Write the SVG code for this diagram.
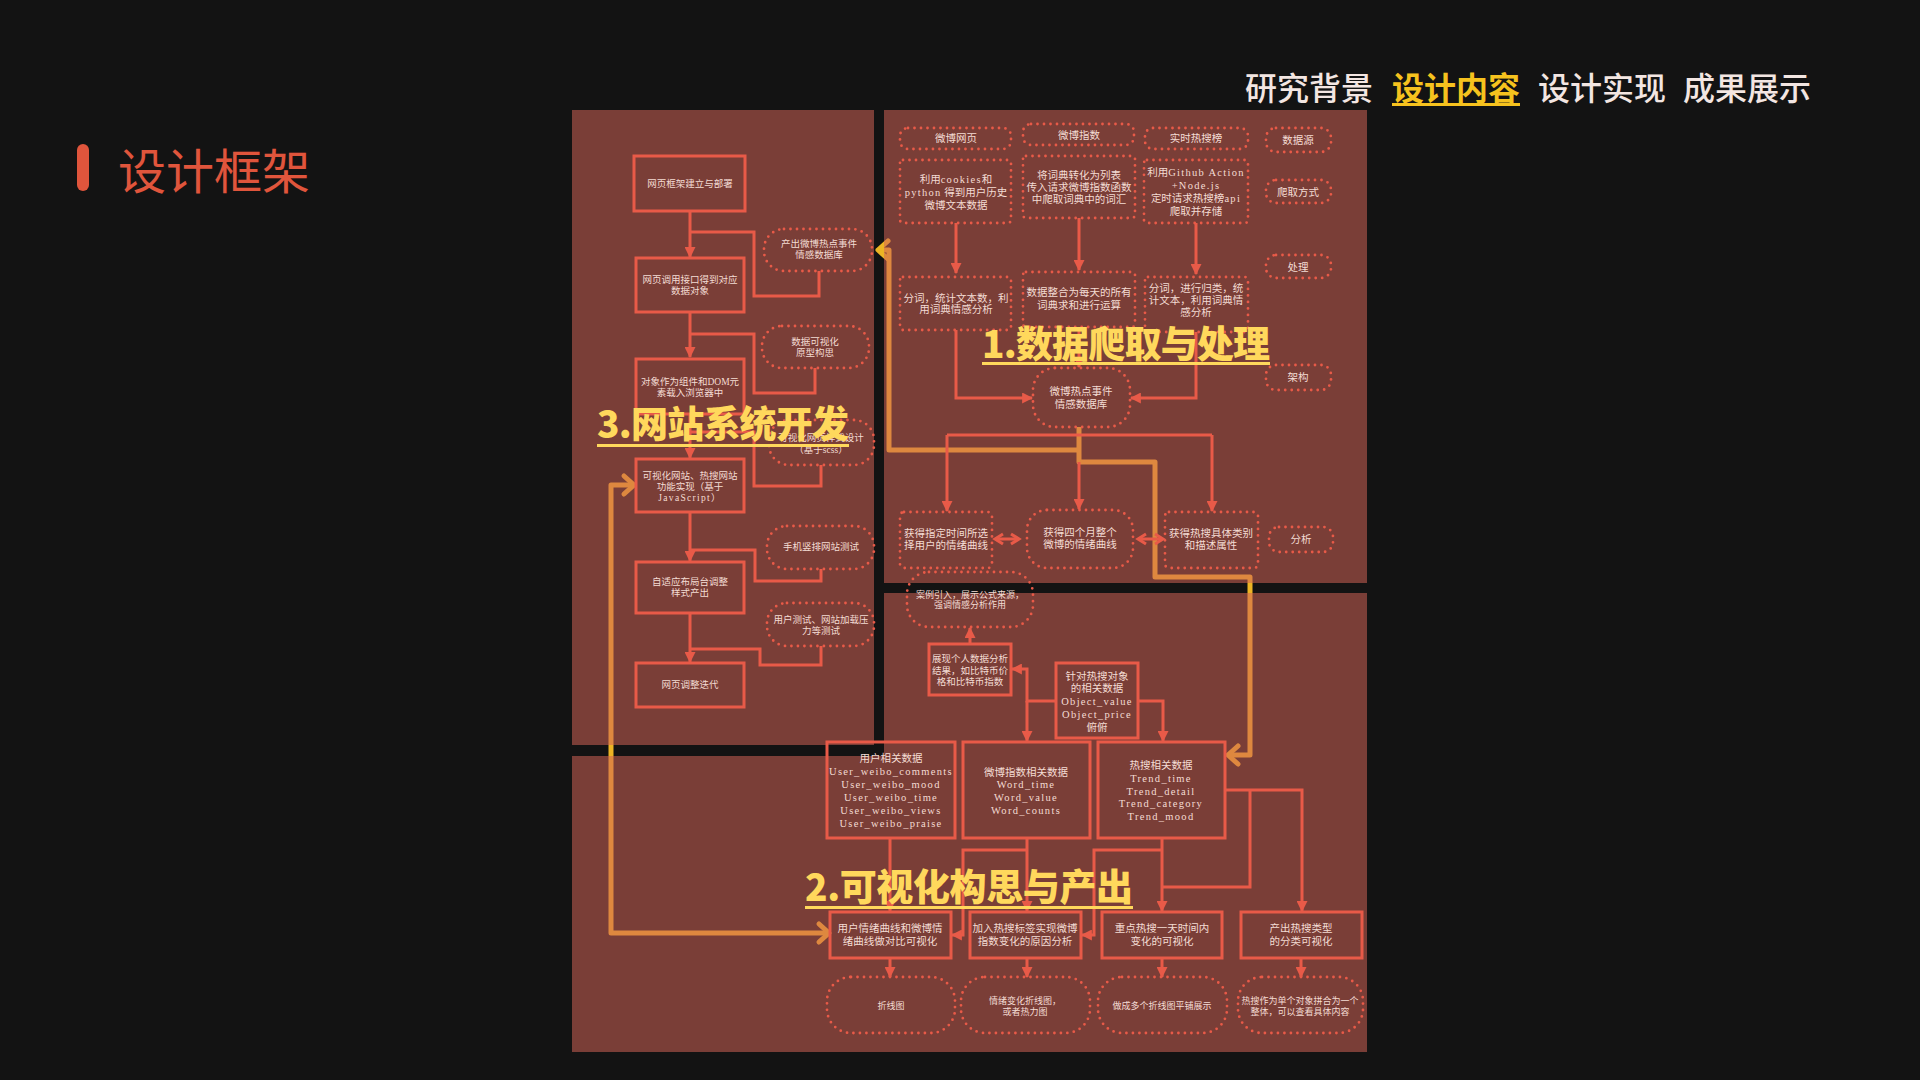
<svg xmlns="http://www.w3.org/2000/svg" width="1920" height="1080" viewBox="0 0 1920 1080">
<defs>
<style>
.bx{fill:none;stroke:#e85a48;stroke-width:3}
.dt{fill:none;stroke:#e85a48;stroke-width:2.8;stroke-dasharray:0 6.5;stroke-linecap:round}
.ln{fill:none;stroke:#e85a48;stroke-width:3}
.ar{marker-end:url(#arr)}
.og{fill:none;stroke:#ecb424;stroke-width:5;stroke-linejoin:round}
.t{font-family:"Liberation Serif","Noto Sans CJK SC",serif;font-size:10.5px;fill:#f4dcd4;text-anchor:middle}
.s{font-size:9.5px}
.xs{font-size:9px}
.lat{letter-spacing:1.3px}
.lab{font-family:"Noto Sans CJK SC","Noto Sans",sans-serif;font-weight:900;font-size:37px;fill:#ffd85c}
.nav{font-family:"Noto Sans CJK SC","Noto Sans",sans-serif;font-size:32px;font-weight:500;fill:#f3e6e2}
</style>
<marker id="arr" viewBox="0 0 10 10" refX="9" refY="5" markerWidth="11" markerHeight="11" markerUnits="userSpaceOnUse" orient="auto"><path d="M0,0 L10,5 L0,10 z" fill="#e85a48"/></marker>
<marker id="chev" viewBox="0 0 10 12" refX="9" refY="6" markerWidth="10" markerHeight="12" markerUnits="userSpaceOnUse" orient="auto-start-reverse" overflow="visible"><path d="M1,1 L9,6 L1,11" fill="none" stroke="#e85a48" stroke-width="3"/></marker>
<marker id="och" viewBox="0 0 14 22" refX="12" refY="11" markerWidth="14" markerHeight="22" markerUnits="userSpaceOnUse" orient="auto-start-reverse" overflow="visible"><path d="M2,2 L12,11 L2,20" fill="none" stroke="#ecb424" stroke-width="5" stroke-linecap="round" stroke-linejoin="round"/></marker>
</defs>
<rect x="0" y="0" width="1920" height="1080" fill="#131313"/>

<g id="header">
<text x="1245" y="100" class="nav">研究背景</text>
<text x="1392" y="100" class="nav" style="fill:#f6c21e;font-weight:700">设计内容</text>
<rect x="1392" y="103" width="128" height="3" fill="#f6c21e"/>
<text x="1538" y="100" class="nav">设计实现</text>
<text x="1683" y="100" class="nav">成果展示</text>
</g>
<g id="title">
<rect x="77" y="144" width="12" height="47" rx="6" fill="#e0553c"/>
<text x="118" y="189" style="font-family:'Noto Sans CJK SC','Noto Sans',sans-serif;font-size:48px;fill:#e0553c">设计框架</text>
</g>

<g id="highlight-connectors">
<path class="og" d="M1079 450 H889 V250 H878" marker-end="url(#och)"/>
<path class="og" d="M1079 427 V462 H1155 V577 H1250 V755 H1228" marker-end="url(#och)"/>
<path class="og" d="M634 485 H611 V933 H829" marker-start="url(#och)" marker-end="url(#och)"/>
</g>

<g id="panels" fill="rgb(210,99,86)" fill-opacity="0.54">
<rect x="572" y="110" width="302" height="635"/>
<rect x="884" y="110" width="483" height="473"/>
<path d="M884 593 H1367 V1052 H572 V756 H884 Z"/>
</g>

<g id="connectors">
<path class="ln ar" d="M690 211 V257"/>
<path class="ln ar" d="M690 312 V357"/>
<path class="ln ar" d="M690 414 V458"/>
<path class="ln ar" d="M690 512 V561"/>
<path class="ln ar" d="M690 613 V662"/>
<path class="ln" d="M819 271 V296 H754 V232 H690"/>
<path class="ln" d="M815 368 V393 H754 V334 H690"/>
<path class="ln" d="M821 465 V486 H754 V432 H690"/>
<path class="ln" d="M821 569 V581 H755 V550 H690"/>
<path class="ln" d="M821 646 V665 H760 V649 H690"/>
<path class="ln ar" d="M956 223 V273"/>
<path class="ln ar" d="M1079 218 V270"/>
<path class="ln ar" d="M1196 223 V274"/>
<path class="ln ar" d="M956 330 V398 H1032"/>
<path class="ln ar" d="M1196 332 V398 H1131"/>
<path class="ln ar" d="M1079 327 V367"/>
<path class="ln" d="M947 435 H1212"/>
<path class="ln ar" d="M947 435 V511"/>
<path class="ln ar" d="M1079 462 V509"/>
<path class="ln ar" d="M1212 435 V511"/>
<path class="ln" d="M995 539 H1019" marker-start="url(#chev)" marker-end="url(#chev)"/>
<path class="ln" d="M1138 539 H1163" marker-start="url(#chev)" marker-end="url(#chev)"/>
<path class="ln ar" d="M970 644 V628"/>
<path class="ln ar" d="M1056 701 H1027 V669 H1012"/>
<path class="ln ar" d="M1027 701 V741"/>
<path class="ln ar" d="M1138 701 H1163 V741"/>
<path class="ln ar" d="M890 838 V911"/>
<path class="ln ar" d="M1027 838 V911"/>
<path class="ln ar" d="M1027 850 H963 V935 H952"/>
<path class="ln ar" d="M1162 838 V911"/>
<path class="ln ar" d="M1162 850 H1094 V935 H1082"/>
<path class="ln ar" d="M1225 790 H1302 V911"/>
<path class="ln" d="M1250 790 V887 H1162"/>
<path class="ln ar" d="M890 958 V977"/>
<path class="ln ar" d="M1027 958 V977"/>
<path class="ln ar" d="M1162 958 V977"/>
<path class="ln ar" d="M1301 958 V977"/>
</g>

<g id="n-frame"><rect class="bx" x="634" y="156" width="111" height="55"/><text class="t s" x="690" y="187">网页框架建立与部署</text></g>
<g id="n-api"><rect class="bx" x="636" y="258" width="108" height="54"/><text class="t s" x="690" y="283">网页调用接口得到对应</text><text class="t s" x="690" y="294">数据对象</text></g>
<g id="n-dom"><rect class="bx" x="636" y="359" width="108" height="55"/><text class="t s" x="690" y="385">对象作为组件和DOM元</text><text class="t s" x="690" y="396">素载入浏览器中</text></g>
<g id="n-js"><rect class="bx" x="636" y="459" width="108" height="53"/><text class="t s" x="690" y="479">可视化网站、热搜网站</text><text class="t s" x="690" y="490">功能实现（基于</text><text class="t s lat" x="690" y="501">JavaScript）</text></g>
<g id="n-adapt"><rect class="bx" x="636" y="562" width="108" height="51"/><text class="t s" x="690" y="585">自适应布局台调整</text><text class="t s" x="690" y="596">样式产出</text></g>
<g id="n-iter"><rect class="bx" x="636" y="663" width="108" height="44"/><text class="t s" x="690" y="688">网页调整迭代</text></g>
<g id="e-db-out"><rect class="dt" x="764" y="229" width="108" height="42" rx="20"/><text class="t s" x="819" y="247">产出微博热点事件</text><text class="t s" x="819" y="258">情感数据库</text></g>
<g id="e-proto"><rect class="dt" x="762" y="326" width="107" height="42" rx="20"/><text class="t s" x="815" y="345">数据可视化</text><text class="t s" x="815" y="356">原型构思</text></g>
<g id="e-scss"><rect class="dt" x="769" y="420" width="105" height="45" rx="20"/><text class="t s" x="821" y="441">可视化网页样式设计</text><text class="t s" x="821" y="453">（基于scss）</text></g>
<g id="e-mobile"><rect class="dt" x="767" y="526" width="107" height="43" rx="20"/><text class="t s" x="821" y="550">手机竖排网站测试</text></g>
<g id="e-test"><rect class="dt" x="767" y="603" width="107" height="43" rx="20"/><text class="t s" x="821" y="623">用户测试、网站加载压</text><text class="t s" x="821" y="634">力等测试</text></g>

<g id="n-src1"><rect class="dt" x="900" y="128" width="111" height="21" rx="8"/><text class="t" x="956" y="142">微博网页</text></g>
<g id="n-src2"><rect class="dt" x="1023" y="124" width="111" height="21" rx="8"/><text class="t" x="1079" y="139">微博指数</text></g>
<g id="n-src3"><rect class="dt" x="1145" y="128" width="103" height="21" rx="8"/><text class="t" x="1196" y="142">实时热搜榜</text></g>
<g id="n-lab-src"><rect class="dt" x="1266" y="128" width="65" height="24" rx="10"/><text class="t" x="1298" y="144">数据源</text></g>
<g id="n-crawl1"><rect class="dt" x="900" y="160" width="111" height="63" rx="3"/><text class="t" x="956" y="183">利用<tspan class="lat">cookies</tspan>和</text><text class="t" x="956" y="196"><tspan class="lat">python</tspan> 得到用户历史</text><text class="t" x="956" y="209">微博文本数据</text></g>
<g id="n-crawl2"><rect class="dt" x="1023" y="156" width="112" height="62" rx="3"/><text class="t" x="1079" y="179">将词典转化为列表</text><text class="t" x="1079" y="191">传入请求微博指数函数</text><text class="t" x="1079" y="203">中爬取词典中的词汇</text></g>
<g id="n-crawl3"><rect class="dt" x="1144" y="160" width="104" height="63" rx="3"/><text class="t" x="1196" y="176">利用<tspan class="lat">Github Action</tspan></text><text class="t lat" x="1196" y="189">+Node.js</text><text class="t" x="1196" y="202">定时请求热搜榜<tspan class="lat">api</tspan></text><text class="t" x="1196" y="215">爬取并存储</text></g>
<g id="n-lab-crawl"><rect class="dt" x="1266" y="180" width="65" height="23" rx="10"/><text class="t" x="1298" y="196">爬取方式</text></g>
<g id="n-proc1"><rect class="dt" x="900" y="277" width="111" height="53" rx="3"/><text class="t" x="956" y="302">分词，统计文本数，利</text><text class="t" x="956" y="313">用词典情感分析</text></g>
<g id="n-proc2"><rect class="dt" x="1023" y="272" width="112" height="55" rx="3"/><text class="t" x="1079" y="296">数据整合为每天的所有</text><text class="t" x="1079" y="309">词典求和进行运算</text></g>
<g id="n-proc3"><rect class="dt" x="1145" y="277" width="103" height="55" rx="3"/><text class="t" x="1196" y="292">分词，进行归类，统</text><text class="t" x="1196" y="304">计文本，利用词典情</text><text class="t" x="1196" y="316">感分析</text></g>
<g id="n-lab-proc"><rect class="dt" x="1266" y="255" width="65" height="23" rx="10"/><text class="t" x="1298" y="271">处理</text></g>
<g id="n-db"><rect class="dt" x="1033" y="368" width="97" height="59" rx="22"/><text class="t" x="1081" y="395">微博热点事件</text><text class="t" x="1081" y="408">情感数据库</text></g>
<g id="n-lab-arch"><rect class="dt" x="1266" y="365" width="65" height="25" rx="10"/><text class="t" x="1298" y="381">架构</text></g>
<g id="n-ana1"><rect class="dt" x="900" y="512" width="92" height="56" rx="4"/><text class="t" x="946" y="537">获得指定时间所选</text><text class="t" x="946" y="549">择用户的情绪曲线</text></g>
<g id="n-ana2"><rect class="dt" x="1027" y="510" width="106" height="58" rx="20"/><text class="t" x="1080" y="536">获得四个月整个</text><text class="t" x="1080" y="548">微博的情绪曲线</text></g>
<g id="n-ana3"><rect class="dt" x="1165" y="512" width="93" height="56" rx="4"/><text class="t" x="1211" y="537">获得热搜具体类别</text><text class="t" x="1211" y="549">和描述属性</text></g>
<g id="n-lab-ana"><rect class="dt" x="1269" y="527" width="64" height="25" rx="10"/><text class="t" x="1301" y="543">分析</text></g>

<g id="n-case"><rect class="dt" x="907" y="572" width="126" height="55" rx="22"/><text class="t xs" x="970" y="598">案例引入，展示公式来源，</text><text class="t xs" x="970" y="608">强调情感分析作用</text></g>
<g id="n-personal"><rect class="bx" x="929" y="644" width="82" height="51"/><text class="t s" x="970" y="662">展现个人数据分析</text><text class="t s" x="970" y="674">结果，如比特币价</text><text class="t s" x="970" y="685">格和比特币指数</text></g>
<g id="n-object"><rect class="bx" x="1056" y="663" width="82" height="75"/><text class="t" x="1097" y="680">针对热搜对象</text><text class="t" x="1097" y="692">的相关数据</text><text class="t lat" x="1097" y="705">Object_value</text><text class="t lat" x="1097" y="718">Object_price</text><text class="t" x="1097" y="731">俯俯</text></g>
<g id="n-user"><rect class="bx" x="827" y="742" width="128" height="96"/><text class="t" x="891" y="762">用户相关数据</text><text class="t lat" x="891" y="775">User_weibo_comments</text><text class="t lat" x="891" y="788">User_weibo_mood</text><text class="t lat" x="891" y="801">User_weibo_time</text><text class="t lat" x="891" y="814">User_weibo_views</text><text class="t lat" x="891" y="827">User_weibo_praise</text></g>
<g id="n-word"><rect class="bx" x="963" y="742" width="127" height="96"/><text class="t" x="1026" y="776">微博指数相关数据</text><text class="t lat" x="1026" y="788">Word_time</text><text class="t lat" x="1026" y="801">Word_value</text><text class="t lat" x="1026" y="814">Word_counts</text></g>
<g id="n-trend"><rect class="bx" x="1098" y="742" width="127" height="96"/><text class="t" x="1161" y="769">热搜相关数据</text><text class="t lat" x="1161" y="782">Trend_time</text><text class="t lat" x="1161" y="795">Trend_detail</text><text class="t lat" x="1161" y="807">Trend_category</text><text class="t lat" x="1161" y="820">Trend_mood</text></g>
<g id="n-vis1"><rect class="bx" x="830" y="912" width="121" height="46"/><text class="t" x="890" y="932">用户情绪曲线和微博情</text><text class="t" x="890" y="945">绪曲线做对比可视化</text></g>
<g id="n-vis2"><rect class="bx" x="970" y="912" width="111" height="46"/><text class="t" x="1025" y="932">加入热搜标签实现微博</text><text class="t" x="1025" y="945">指数变化的原因分析</text></g>
<g id="n-vis3"><rect class="bx" x="1102" y="912" width="120" height="46"/><text class="t" x="1162" y="932">重点热搜一天时间内</text><text class="t" x="1162" y="945">变化的可视化</text></g>
<g id="n-vis4"><rect class="bx" x="1241" y="912" width="121" height="46"/><text class="t" x="1301" y="932">产出热搜类型</text><text class="t" x="1301" y="945">的分类可视化</text></g>
<g id="e-out1"><rect class="dt" x="827" y="977" width="128" height="56" rx="24"/><text class="t xs" x="891" y="1009">折线图</text></g>
<g id="e-out2"><rect class="dt" x="961" y="977" width="129" height="56" rx="24"/><text class="t xs" x="1025" y="1004">情绪变化折线图，</text><text class="t xs" x="1025" y="1015">或者热力图</text></g>
<g id="e-out3"><rect class="dt" x="1098" y="977" width="129" height="56" rx="24"/><text class="t xs" x="1162" y="1009">做成多个折线图平铺展示</text></g>
<g id="e-out4"><rect class="dt" x="1238" y="977" width="125" height="56" rx="24"/><text class="t xs" x="1300" y="1004">热搜作为单个对象拼合为一个</text><text class="t xs" x="1300" y="1015">整体，可以查看具体内容</text></g>

<g id="section-labels">
<text class="lab" x="982" y="358" textLength="288" lengthAdjust="spacing">1.数据爬取与处理</text>
<rect x="982" y="362" width="288" height="3" fill="#ffd85c"/>
<text class="lab" x="805" y="901" textLength="328" lengthAdjust="spacing">2.可视化构思与产出</text>
<rect x="805" y="906" width="328" height="3" fill="#ffd85c"/>
<text class="lab" x="597" y="438" textLength="252" lengthAdjust="spacing">3.网站系统开发</text>
<rect x="597" y="444" width="252" height="3" fill="#ffd85c"/>
</g>
</svg>
